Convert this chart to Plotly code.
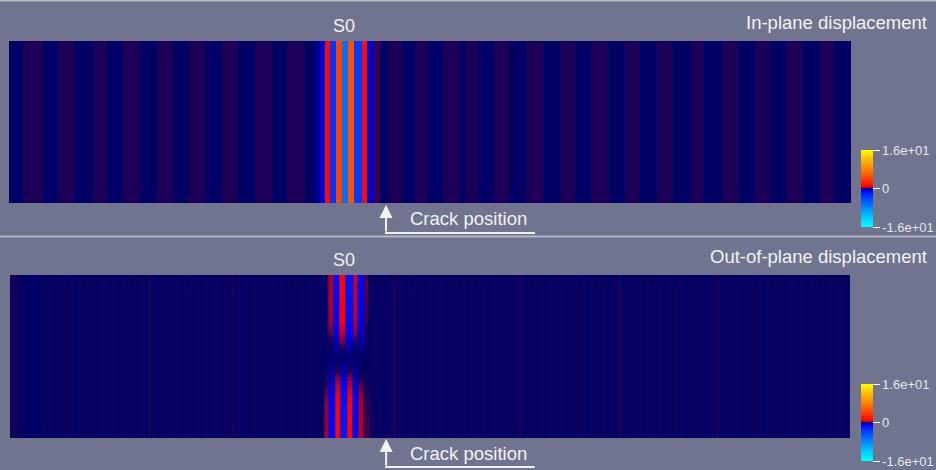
import numpy as np
import plotly.graph_objects as go

# ---------------- data (plate coordinate along length, 0..842 mm) ----------------
N, F, P = -0.1, 0.0, 0.1   # navy / faint / purple background levels

# Panel 1: in-plane displacement (vertical stripes)
inplane_edges = [0, 14, 34, 49, 65, 84, 98, 113, 131, 148, 164, 179, 196, 213, 229, 246, 263, 278, 296, 306,
                 311, 316, 321, 327, 333, 339, 345, 353, 358, 365, 371,
                 379, 393, 406, 419, 434, 451, 457, 469, 485, 500, 517, 534, 551, 566, 582, 600, 616, 631, 648,
                 664, 681, 694, 713, 730, 746, 761, 777, 794, 811, 825, 842]
inplane_vals = ([N, P, N, P, N, P, N, P, N, P, N, P, N, P, N, P, N, P, N]
                + [-0.3, -0.8, 1.3, -3.2, 4.2, -6.4, 5.1, -3.5, 1.3, -0.7, 0.15]
                + [N, P, N, P, N, P, N, P, N, P, N, P, N, P, N, P, N, P, N, P, N, P, N, P, N, P, N, P, N, P, N])

# Panel 2: out-of-plane displacement background (3 mm cells)
outplane_bg = (
    [F, F, F, F, N, N, N, N, N, N, N, F, N, F, N, N, F, N, F, N]
    + [F, N, N, F, N, F, N, F, N, N, F, N, F, N, F, N, N, F, N, F]
    + [N, F, N, N, F, N, P, N, F, N, N, F, N, F, N, F, N, N, F, N]
    + [F, N, F, N, N, F, N, F, N, F, N, N, F, N, P, N, F, N, N, F]
    + [N, F, N, F, N, N, F, N, F, N, F, N, N, F, N, F, N, F, N, N]
    + [F, N, F, N, F, N, N, F, N, F, N, F, N, N, F, N, F, N, F, N]
    + [N, F, N, F, N, N, F, N, P, N, F, N, N, F, N, F, N, F, N, N]
    + [F, N, F, N, F, N, N, F, N, F, N, F, N, N, F, N, F, N, F, N]
    + [N, F, N, F, N, N, F, N, F, N, P, N, N, F, N, F, N, F, N, N]
    + [F, N, F, N, F, N, N, F, N, F, N, F, N, N, F, N, F, N, F, N]
    + [N, F, N, P, N, N, F, N, F, N, F, N, N, F, N, F, N, F, N, N]
    + [F, N, F, N, F, N, N, F, N, F, N, F, N, N, F, N, P, N, F, N]
    + [N, F, N, F, N, N, F, N, F, N, F, N, N, F, N, F, N, F, N, N]
    + [F, N, F, N, F, N, N, F, N, F, N, F, N, N, F, N, F, N, F, N]
    + [N]
)
bg_cell = 3.0

# S0 packet above the crack (upper half) and below it (lower half)
s0_top_edges = [309, 319, 324, 330, 336, 344, 348, 355, 359, 363]
s0_top_vals = [-0.1, 0.45, -1.5, 1.0, -1.8, 0.6, -1.0, 0.2, -0.1]
s0_bot_edges = [309, 315, 319, 326, 331, 338, 343, 349, 354, 361, 363]
s0_bot_vals = [-0.1, 0.35, -1.2, 1.0, -2.0, 1.0, -1.2, 0.45, 0.15, -0.1]
# intensity of each packet through the thickness, rows listed top -> bottom
env_top = [1, 1, 1, 1, 0.98, 0.96, 0.94, 0.92, 0.9, 0.87, 0.84, 0.8,
           0.72, 0.62, 0.52, 0.42, 0.32, 0.22, 0.14, 0.08, 0.04, 0.02,
           0, 0, 0, 0, 0, 0, 0, 0, 0, 0, 0, 0, 0, 0, 0, 0, 0, 0]
env_bot = [0, 0, 0, 0, 0, 0, 0, 0, 0, 0, 0, 0, 0, 0, 0, 0, 0, 0, 0, 0,
           0.03, 0.07, 0.13, 0.2, 0.28, 0.37, 0.47, 0.57, 0.66, 0.74,
           0.81, 0.87, 0.91, 0.94, 0.96, 0.98, 0.99, 1, 1, 1]

crack_x = 377
zmin, zmax = -16, 16
tick_vals = [-16, 0, 16]
tick_text = ["-1.6e+01", "0", "1.6e+01"]

# ---------------- build grids ----------------
union = sorted(set(s0_top_edges) | set(s0_bot_edges))


def lookup(edges, vals, xc):
    for i in range(len(vals)):
        if edges[i] <= xc < edges[i + 1]:
            return vals[i]
    return -0.1


base = -0.1
centers = [(union[i] + union[i + 1]) / 2 for i in range(len(union) - 1)]
rows_tb = []
for ea, eb in zip(env_top, env_bot):
    row = []
    for xc in centers:
        a = lookup(s0_top_edges, s0_top_vals, xc)
        b = lookup(s0_bot_edges, s0_bot_vals, xc)
        row.append(base + ea * (a - base) + eb * (b - base))
    rows_tb.append(row)
s0_z = rows_tb[::-1]
y_edges = np.linspace(0, 1, len(env_top) + 1)

# ---------------- colours ----------------
cscale = [
    [0.00, "rgb(0,255,255)"],
    [0.15, "rgb(0,190,255)"],
    [0.30, "rgb(0,110,255)"],
    [0.42, "rgb(0,40,255)"],
    [0.47, "rgb(0,0,240)"],
    [0.49, "rgb(0,0,150)"],
    [0.497, "rgb(0,0,100)"],
    [0.503, "rgb(26,0,88)"],
    [0.51, "rgb(150,0,50)"],
    [0.525, "rgb(255,0,0)"],
    [0.60, "rgb(255,50,0)"],
    [0.75, "rgb(255,130,0)"],
    [0.90, "rgb(255,200,0)"],
    [1.00, "rgb(255,255,0)"],
]

W, H = 936, 470
BG = "rgb(112,116,143)"
TXT = "rgb(242,242,245)"
FONT = "Liberation Sans, Arial, sans-serif"


def fx(px):
    return px / W


def fy(py):
    return 1 - py / H


def cbar(center_py):
    return dict(
        x=fx(861), xanchor="left", xpad=0, ypad=0,
        y=fy(center_py), yanchor="middle",
        thickness=12, thicknessmode="pixels", len=77, lenmode="pixels",
        outlinewidth=0, ticks="outside", ticklen=7, tickwidth=1, tickcolor="white",
        tickvals=tick_vals, ticktext=tick_text,
        tickfont=dict(size=13, color="rgb(230,230,236)", family=FONT),
    )


fig = go.Figure()
fig.add_trace(go.Heatmap(
    z=[inplane_vals], x=inplane_edges, y=[0, 1], zmin=zmin, zmax=zmax,
    colorscale=cscale, colorbar=cbar(188.5), xaxis="x", yaxis="y", hoverinfo="skip"))
fig.add_trace(go.Heatmap(
    z=[outplane_bg], x0=bg_cell / 2, dx=bg_cell, y=[0, 1], zmin=zmin, zmax=zmax,
    colorscale=cscale, colorbar=cbar(422.5), xaxis="x2", yaxis="y2", hoverinfo="skip"))
fig.add_trace(go.Heatmap(
    z=s0_z, x=union, y=y_edges, zmin=zmin, zmax=zmax,
    colorscale=cscale, showscale=False, xaxis="x2", yaxis="y2", hoverinfo="skip"))

ax_common = dict(visible=False, fixedrange=True, range=[0, 842])
fig.update_layout(
    width=W, height=H, margin=dict(l=0, r=0, t=0, b=0),
    paper_bgcolor=BG, plot_bgcolor=BG, showlegend=False,
    font=dict(family=FONT, color=TXT),
    xaxis=dict(domain=[fx(9), fx(851)], anchor="y", **ax_common),
    yaxis=dict(domain=[fy(203), fy(41)], anchor="x", visible=False, fixedrange=True, range=[0, 1]),
    xaxis2=dict(domain=[fx(10), fx(850)], anchor="y2", **ax_common),
    yaxis2=dict(domain=[fy(438), fy(275)], anchor="x2", visible=False, fixedrange=True, range=[0, 1]),
)

anns = []
shapes = []
# frame lines
shapes.append(dict(type="line", xref="paper", yref="paper", x0=0, x1=1, y0=fy(0.7), y1=fy(0.7),
                   line=dict(color="rgb(185,188,202)", width=1.5)))
shapes.append(dict(type="line", xref="paper", yref="paper", x0=0, x1=1, y0=fy(236.5), y1=fy(236.5),
                   line=dict(color="rgb(178,181,198)", width=2)))

for off, title, xa in [(0, "In-plane displacement", "x"), (234, "Out-of-plane displacement", "x2")]:
    anns.append(dict(text="S0", xref="paper", yref="paper", x=fx(344), y=fy(26 + off),
                     xanchor="center", yanchor="middle", showarrow=False,
                     font=dict(size=18, color=TXT, family=FONT)))
    anns.append(dict(text=title, xref="paper", yref="paper", x=fx(929), y=fy(22.5 + off),
                     xanchor="right", yanchor="middle", showarrow=False,
                     font=dict(size=18.5, color=TXT, family=FONT)))
    anns.append(dict(text="Crack position", xref=xa, yref="paper", x=crack_x, xshift=22,
                     y=fy(219 + off), xanchor="left", yanchor="middle", showarrow=False,
                     font=dict(size=18.5, color=TXT, family=FONT)))
    anns.append(dict(text="", xref=xa, yref="paper", x=crack_x, y=fy(205 + off),
                     ax=0, ay=28, showarrow=True, arrowhead=2, arrowsize=1.3, arrowwidth=2,
                     arrowcolor=TXT, standoff=0, startstandoff=0))
    shapes.append(dict(type="line", xref=xa, yref="paper", x0=crack_x - 1, x1=crack_x + 149,
                       y0=fy(233 + off), y1=fy(233 + off), line=dict(color=TXT, width=2)))

fig.update_layout(annotations=anns, shapes=shapes)
fig.write_html("out.html", config={"displayModeBar": False},
               post_script="document.body.style.margin='0px';document.body.style.overflow='hidden';")
